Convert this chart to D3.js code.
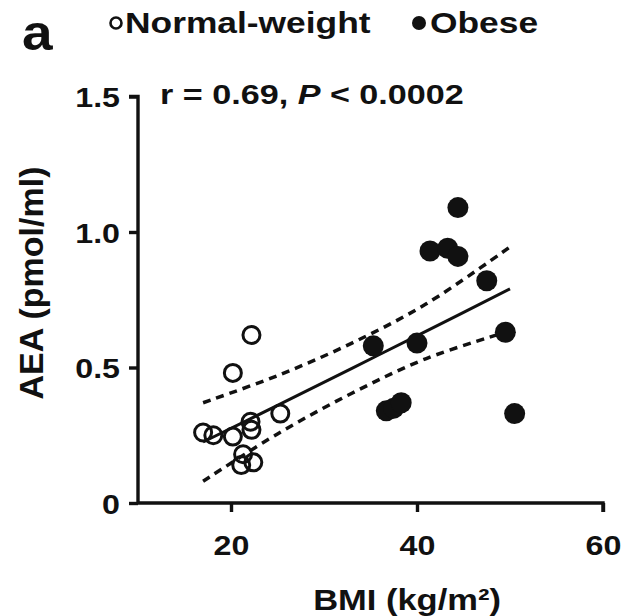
<!DOCTYPE html>
<html>
<head>
<meta charset="utf-8">
<script src="https://cdn.jsdelivr.net/npm/d3@7"></script>
<style>
  body { margin: 0; background: #fff; }
  text { font-family: "Liberation Sans", Arial, sans-serif; font-weight: bold; fill: #111; }
</style>
</head>
<body>
<div id="chart"></div>
<script>
// normal-weight subjects (open circles)
var normalBMI = [17.0, 18.1, 20.2, 20.2, 22.2, 21.3, 21.1, 22.4, 22.1, 22.2, 25.3];
var normalAEA = [0.26, 0.25, 0.245, 0.48, 0.62, 0.18, 0.14, 0.15, 0.30, 0.27, 0.33];

// obese subjects (filled circles)
var obeseBMI = [44.4, 41.4, 43.3, 44.4, 47.5, 49.5, 35.3, 40.0, 36.7, 37.5, 38.3, 50.5];
var obeseAEA = [1.09, 0.93, 0.94, 0.91, 0.82, 0.63, 0.58, 0.59, 0.34, 0.35, 0.37, 0.33];

// regression line and 95% band
var fitBMI = [17, 25, 33, 41, 50];
var fitAEA = [0.225, 0.36, 0.497, 0.634, 0.79];
var upperAEA = [0.37, 0.47, 0.59, 0.735, 0.945];
var lowerAEA = [0.08, 0.255, 0.405, 0.533, 0.635];

var xTicks = [20, 40, 60];
var yTicks = [0, 0.5, 1.0, 1.5];
var yTickLabels = ["0", "0.5", "1.0", "1.5"];

var W = 628, H = 616, sx = 1.15, sxBig = 1.22;

var svg = d3.select("#chart").append("svg")
    .attr("width", W)
    .attr("height", H);

var x = d3.scaleLinear().domain([10, 60]).range([138, 603]);
var y = d3.scaleLinear().domain([0, 1.5]).range([503, 96.5]);

function label(str, tx, ty, size, s, anchor) {
    return svg.append("text")
        .attr("transform", "translate(" + tx + "," + ty + ") scale(" + s + ",1)")
        .attr("text-anchor", anchor || "start")
        .style("font-size", size + "px")
        .text(str);
}

// axes
var xAxis = svg.append("g")
    .attr("transform", "translate(0," + y(0) + ")")
    .call(d3.axisBottom(x).tickValues(xTicks).tickSize(9).tickPadding(0).tickFormat(d3.format("d")));
var yAxis = svg.append("g")
    .attr("transform", "translate(" + x(10) + ",0)")
    .call(d3.axisLeft(y).tickValues(yTicks).tickSize(9).tickPadding(0)
        .tickFormat((d, i) => yTickLabels[i]));

[xAxis, yAxis].forEach(g => {
    g.select(".domain").attr("stroke", "#111").attr("stroke-width", 3.4);
    g.selectAll(".tick line").attr("stroke", "#111").attr("stroke-width", 3.4);
    g.selectAll(".tick text").style("font-size", "28px").attr("fill", "#111");
});
xAxis.selectAll(".tick text")
    .attr("y", 0).attr("dy", 0)
    .attr("transform", "translate(0,52) scale(" + sx + ",1)");
yAxis.selectAll(".tick text")
    .attr("x", 0).attr("dy", "0.36em")
    .attr("transform", "translate(-18,0) scale(" + sx + ",1)");
// keep the top of the y axis flush with the 1.5 tick
yAxis.select(".domain").attr("d", "M-9," + y(1.5) + "H0V" + y(0));
xAxis.select(".domain").attr("d", "M" + x(10) + ",0H" + x(60) + "V9");

// band and fit
var line = d3.line().x(d => x(d[0])).y(d => y(d[1])).curve(d3.curveCatmullRom);
svg.append("path")
    .attr("d", line(fitBMI.map((v, i) => [v, upperAEA[i]])))
    .attr("fill", "none").attr("stroke", "#111").attr("stroke-width", 3.5)
    .attr("stroke-dasharray", "8,6");
svg.append("path")
    .attr("d", line(fitBMI.map((v, i) => [v, lowerAEA[i]])))
    .attr("fill", "none").attr("stroke", "#111").attr("stroke-width", 3.5)
    .attr("stroke-dasharray", "8,6");
svg.append("path")
    .attr("d", line(fitBMI.map((v, i) => [v, fitAEA[i]])))
    .attr("fill", "none").attr("stroke", "#111").attr("stroke-width", 3);

// points
svg.selectAll(".normal")
    .data(normalBMI.map((v, i) => [v, normalAEA[i]]))
    .enter().append("circle")
    .attr("class", "normal")
    .attr("cx", d => x(d[0]))
    .attr("cy", d => y(d[1]))
    .attr("r", 8.5)
    .attr("fill", "none")
    .attr("stroke", "#111")
    .attr("stroke-width", 3);

svg.selectAll(".obese")
    .data(obeseBMI.map((v, i) => [v, obeseAEA[i]]))
    .enter().append("circle")
    .attr("class", "obese")
    .attr("cx", d => x(d[0]))
    .attr("cy", d => y(d[1]))
    .attr("r", 10.5)
    .attr("fill", "#111");

// texts
label("a", 22, 50, 50, 1.1);

svg.append("circle").attr("cx", 116).attr("cy", 23).attr("r", 5.5)
    .attr("fill", "none").attr("stroke", "#111").attr("stroke-width", 2.6);
label("Normal-weight", 125, 33, 29, sxBig);
svg.append("circle").attr("cx", 419).attr("cy", 23).attr("r", 7).attr("fill", "#111");
label("Obese", 430, 33, 29, sxBig);

var rt = svg.append("text")
    .attr("transform", "translate(160,104) scale(" + sxBig + ",1)")
    .style("font-size", "28px");
rt.append("tspan").text("r = 0.69, ");
rt.append("tspan").style("font-style", "italic").text("P");
rt.append("tspan").text(" < 0.0002");

label("BMI (kg/m\u00b2)", 407, 610, 30, sx, "middle");

svg.append("text")
    .attr("transform", "translate(43,283) rotate(-90)")
    .attr("text-anchor", "middle")
    .style("font-size", "34px")
    .text("AEA (pmol/ml)");
</script>
</body>
</html>
